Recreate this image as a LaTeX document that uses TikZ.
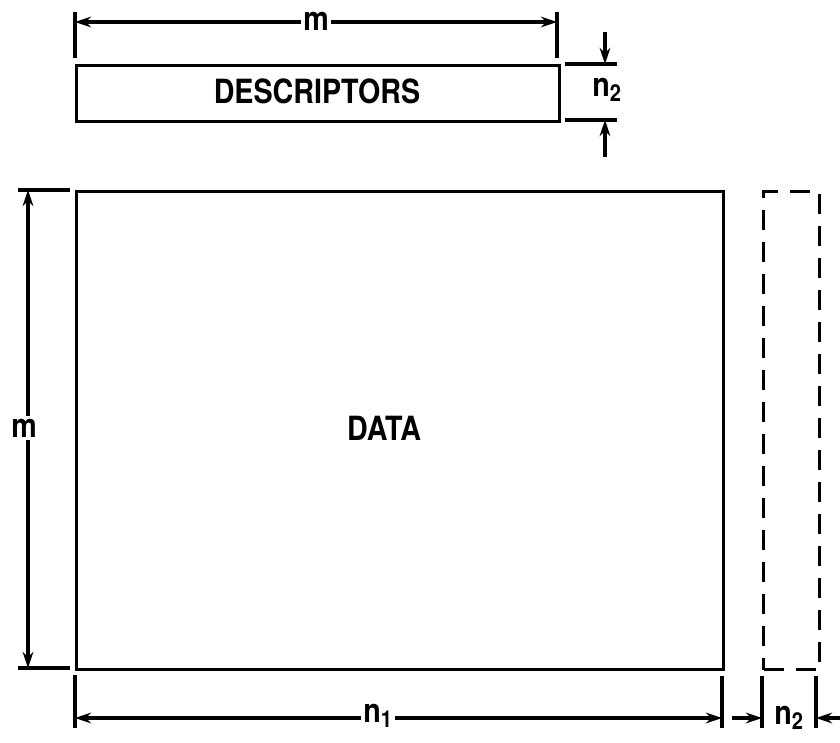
\documentclass[tikz,border=0pt]{standalone}
\usepackage{fontspec}
\usepackage{graphicx}
\setmainfont{TeX Gyre Heros}
\usetikzlibrary{arrows.meta}
\newcommand{\cond}[1]{\scalebox{0.86}[1]{#1}}
\begin{document}
\begin{tikzpicture}[x=0.75pt,y=-0.75pt,
  dimline/.style={line width=2.4pt},
  tip/.style={dimline,-{Stealth[length=12pt,width=8pt]}},
  both/.style={dimline,{Stealth[length=12pt,width=8pt]}-{Stealth[length=12pt,width=8pt]}},
  box/.style={draw,line width=2.4pt,anchor=north west,inner sep=0pt},
  lbl/.style={fill=white,inner sep=2pt,font=\fontsize{25}{27}\selectfont\bfseries},
  ttl/.style={font=\fontsize{25}{27}\selectfont\bfseries}]
\useasboundingbox (0,0) rectangle (840,743);
% boxes
\node[box,minimum width=362.25pt,minimum height=42pt] (desc) at (75,64) {};
\node[ttl] (desct) at (317,91) {\cond{DESCRIPTORS}};
\node[box,minimum width=485.25pt,minimum height=358.5pt] (data) at (75,190) {};
\node[ttl] (datat) at (384,428) {\cond{DATA}};
\node[box,dash pattern=on 15pt off 9pt,minimum width=42pt,minimum height=358.5pt] (dash) at (762,190) {};
% top m dimension
\coordinate (tl1) at (75,12); \coordinate (tl2) at (75,58);
\coordinate (tr1) at (557,12); \coordinate (tr2) at (557,58);
\draw[dimline] (tl1) -- (tl2);
\draw[dimline] (tr1) -- (tr2);
\coordinate (ta) at (75,22); \coordinate (tb) at (557,22);
\draw[both] (ta) -- (tb);
\node[lbl] (mtop) at (316,21) {\cond{m}};
% n2 for descriptors
\coordinate (e1a) at (565,64); \coordinate (e1b) at (617,64);
\coordinate (e2a) at (565,120); \coordinate (e2b) at (617,120);
\draw[dimline] (e1a) -- (e1b);
\draw[dimline] (e2a) -- (e2b);
\coordinate (d1) at (605,32); \coordinate (d1e) at (605,64);
\coordinate (d2) at (605,157); \coordinate (d2e) at (605,120);
\draw[tip] (d1) -- (d1e);
\draw[tip] (d2) -- (d2e);
\node[ttl,inner sep=0pt] (n2a) at (607,90) {\cond{n\textsubscript{2}}};
% left m dimension
\coordinate (l1a) at (18,190); \coordinate (l1b) at (70,190);
\coordinate (l2a) at (18,668); \coordinate (l2b) at (70,668);
\draw[dimline] (l1a) -- (l1b);
\draw[dimline] (l2a) -- (l2b);
\coordinate (la) at (28,190); \coordinate (lb) at (28,668);
\draw[both] (la) -- (lb);
\node[lbl] (mleft) at (24,428) {\cond{m}};
% bottom dimensions
\coordinate (b1a) at (75,675); \coordinate (b1b) at (75,728);
\coordinate (b2a) at (722,676); \coordinate (b2b) at (722,728);
\coordinate (b3a) at (762,676); \coordinate (b3b) at (762,728);
\coordinate (b4a) at (816,676); \coordinate (b4b) at (816,728);
\draw[dimline] (b1a) -- (b1b);
\draw[dimline] (b2a) -- (b2b);
\draw[dimline] (b3a) -- (b3b);
\draw[dimline] (b4a) -- (b4b);
\coordinate (ba) at (75,718); \coordinate (bb) at (722,718);
\draw[both] (ba) -- (bb);
\node[lbl] (n1) at (378,716) {\cond{n\textsubscript{1}}};
\coordinate (c1) at (732,718); \coordinate (c1e) at (762,718);
\draw[tip] (c1) -- (c1e);
\coordinate (c2) at (840,718); \coordinate (c2e) at (816,718);
\draw[tip] (c2) -- (c2e);
\node[ttl,inner sep=0pt] (n2b) at (789,718) {\cond{n\textsubscript{2}}};
\end{tikzpicture}
\end{document}
